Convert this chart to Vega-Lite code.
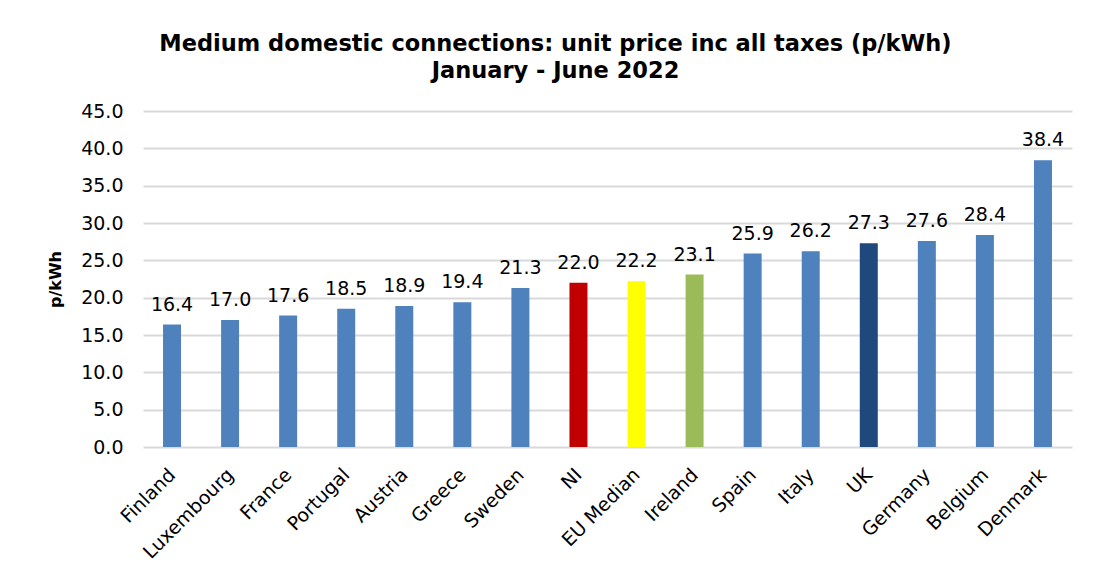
{
  "$schema": "https://vega.github.io/schema/vega-lite/v6.json",
  "autosize": "none",
  "width": 929,
  "height": 336,
  "padding": {"left": 143, "top": 111, "right": 30, "bottom": 129},
  "background": "white",
  "title": {
    "text": ["Medium domestic connections: unit price inc all taxes (p/kWh)", "January - June 2022"],
    "fontSize": 22.5,
    "font": "DejaVu Sans",
    "fontWeight": "bold",
    "color": "#000000",
    "lineHeight": 27,
    "anchor": "middle",
    "dx": -52,
    "offset": 20
  },
  "data": {
    "values": [
      {"country": "Finland", "price": 16.4, "group": "Country"},
      {"country": "Luxembourg", "price": 17.0, "group": "Country"},
      {"country": "France", "price": 17.6, "group": "Country"},
      {"country": "Portugal", "price": 18.5, "group": "Country"},
      {"country": "Austria", "price": 18.9, "group": "Country"},
      {"country": "Greece", "price": 19.4, "group": "Country"},
      {"country": "Sweden", "price": 21.3, "group": "Country"},
      {"country": "NI", "price": 22.0, "group": "NI"},
      {"country": "EU Median", "price": 22.2, "group": "EU Median"},
      {"country": "Ireland", "price": 23.1, "group": "Ireland"},
      {"country": "Spain", "price": 25.9, "group": "Country"},
      {"country": "Italy", "price": 26.2, "group": "Country"},
      {"country": "UK", "price": 27.3, "group": "UK"},
      {"country": "Germany", "price": 27.6, "group": "Country"},
      {"country": "Belgium", "price": 28.4, "group": "Country"},
      {"country": "Denmark", "price": 38.4, "group": "Country"}
    ]
  },
  "encoding": {
    "x": {
      "field": "country",
      "type": "nominal",
      "sort": null,
      "scale": {"paddingInner": 0.69, "paddingOuter": 0.345},
      "axis": {
        "title": null,
        "labelAngle": -45,
        "labelFontSize": 19,
        "labelFont": "DejaVu Sans",
        "labelColor": "#000000",
        "labelPadding": 18,
        "labelOffset": -6,
        "ticks": false,
        "domain": false
      }
    },
    "y": {
      "field": "price",
      "type": "quantitative",
      "scale": {"domain": [0, 45]},
      "axis": {
        "title": "p/kWh",
        "titleFontSize": 16,
        "titleFont": "DejaVu Sans",
        "titleFontWeight": "bold",
        "titleColor": "#000000",
        "titlePadding": 17,
        "values": [0, 5, 10, 15, 20, 25, 30, 35, 40, 45],
        "format": ".1f",
        "labelFontSize": 19,
        "labelFont": "DejaVu Sans",
        "labelColor": "#000000",
        "labelPadding": 20,
        "ticks": false,
        "domain": false,
        "gridColor": "#d9d9d9",
        "gridWidth": 2
      }
    }
  },
  "layer": [
    {
      "mark": {"type": "bar"},
      "encoding": {
        "color": {
          "field": "group",
          "type": "nominal",
          "scale": {
            "domain": ["Country", "NI", "EU Median", "Ireland", "UK"],
            "range": ["#4F81BD", "#C00000", "#FFFF00", "#9BBB59", "#1F497D"]
          },
          "legend": null
        }
      }
    },
    {
      "mark": {"type": "text", "baseline": "alphabetic", "dy": -14, "fontSize": 19, "font": "DejaVu Sans", "color": "#000000"},
      "encoding": {
        "text": {"field": "price", "type": "quantitative", "format": ".1f"}
      }
    }
  ],
  "config": {"view": {"stroke": null}}
}
